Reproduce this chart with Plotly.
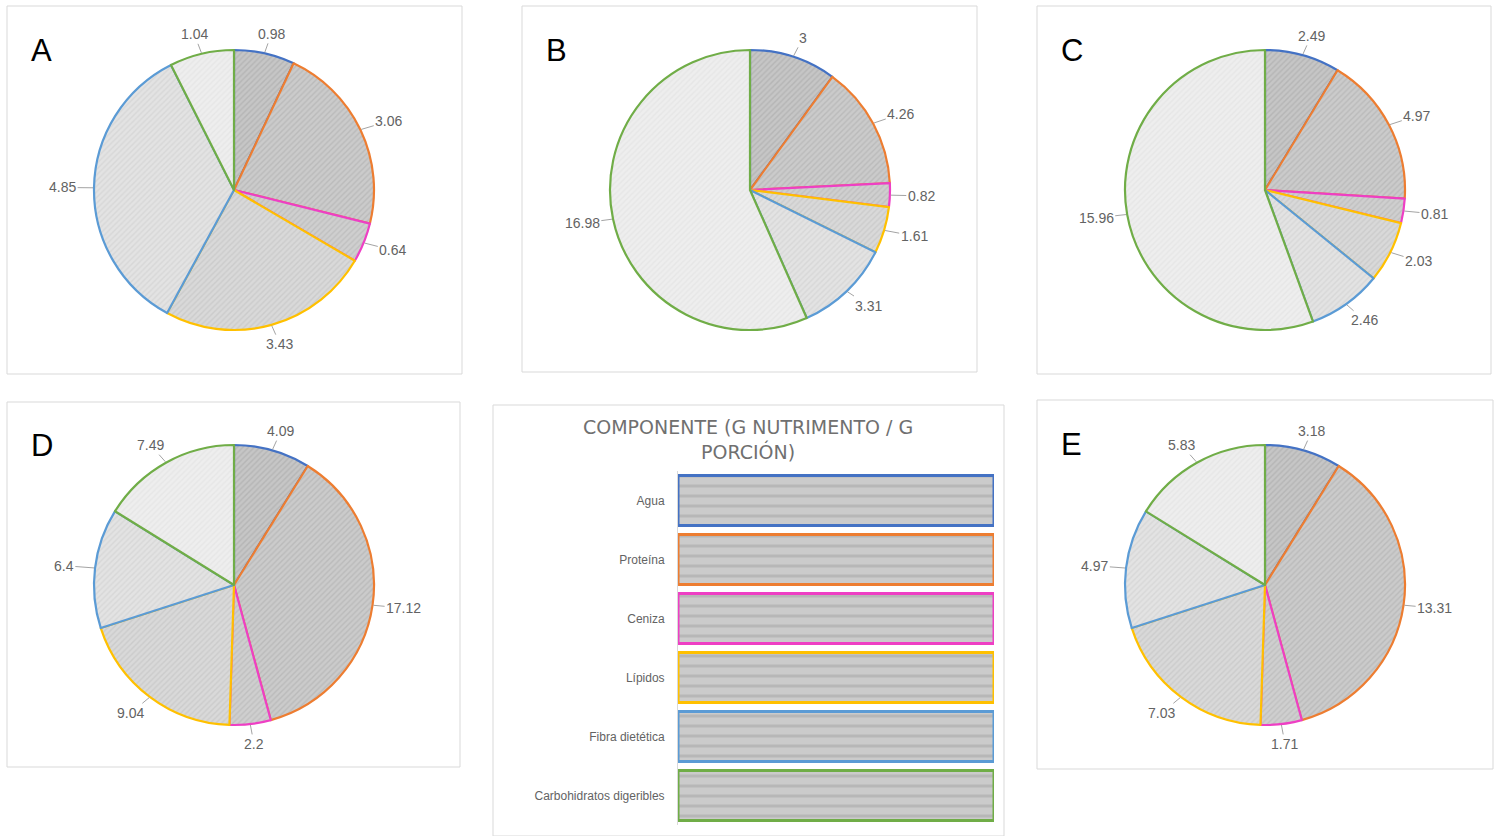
import math
import plotly.graph_objects as go

# Nutrient composition (g nutrient / g portion) for five samples
components = ["Agua", "Proteína", "Ceniza", "Lípidos", "Fibra dietética", "Carbohidratos digeribles"]
sample_a = [0.98, 3.06, 0.64, 3.43, 4.85, 1.04]
sample_b = [3, 4.26, 0.82, 1.61, 3.31, 16.98]
sample_c = [2.49, 4.97, 0.81, 2.03, 2.46, 15.96]
sample_d = [4.09, 17.12, 2.2, 9.04, 6.4, 7.49]
sample_e = [3.18, 13.31, 1.71, 7.03, 4.97, 5.83]
panel_letters = ["A", "B", "C", "D", "E"]
legend_bar_length = [1, 1, 1, 1, 1, 1]

W, H = 1498, 836
edge_colors = ["#4472C4", "#ED7D31", "#EE3FC4", "#FFC000", "#5B9BD5", "#70AD47"]
fill_bg = ["#c6c6c6", "#cbcbcb", "#cfcfcf", "#d9d9d9", "#e3e3e3", "#eeeeee"]
fill_fg = ["#a3a3a3", "#a9a9a9", "#afafaf", "#bdbdbd", "#cccccc", "#dddddd"]
label_color = "#636363"


def px(x):
    return x / W


def py(y):
    return 1 - y / H


# panel frames (left, top, right, bottom) and pie centres in pixels
frames = [(7, 6, 462, 374), (522, 6, 977, 372), (1037, 6, 1491, 374),
          (7, 402, 460, 767), (1037, 400, 1493, 769)]
centres = [(234, 190), (750, 190), (1265, 190), (234, 585), (1265, 585)]
radius = 140
samples = [sample_a, sample_b, sample_c, sample_d, sample_e]

fig = go.Figure()
shapes = []
annotations = []

for frame in frames + [(493, 405, 1004, 836)]:
    l, t, r, b = frame
    shapes.append(dict(type="rect", xref="paper", yref="paper",
                       x0=px(l), x1=px(r), y0=py(b), y1=py(t),
                       line=dict(color="#d9d9d9", width=1), fillcolor="white", layer="below"))

for letter, vals, (cx, cy), frame in zip(panel_letters, samples, centres, frames):
    fig.add_trace(go.Pie(
        labels=components, values=vals, sort=False, direction="clockwise", rotation=0,
        textinfo="none", hoverinfo="label+value", showlegend=False,
        domain=dict(x=[px(cx - radius), px(cx + radius)], y=[py(cy + radius), py(cy - radius)]),
        marker=dict(colors=fill_bg, line=dict(color=edge_colors, width=2.2),
                    pattern=dict(shape="/", fgcolor=fill_fg, bgcolor=fill_bg,
                                 size=4, solidity=0.35, fillmode="overlay")),
    ))
    annotations.append(dict(text=letter, x=px(frame[0] + 22), y=py(frame[1] + 44),
                            xref="paper", yref="paper", xanchor="left", yanchor="middle",
                            showarrow=False, font=dict(family="Liberation Sans", size=31, color="black")))
    # value labels placed just outside each slice with a short leader line
    total = sum(vals)
    cum = 0.0
    for v in vals:
        mid = (cum + v / 2) / total * 2 * math.pi
        cum += v
        sx, sy = math.sin(mid), -math.cos(mid)
        tip_x, tip_y = cx + (radius + 1) * sx, cy + (radius + 1) * sy
        off = 19
        annotations.append(dict(
            text=f"{v:g}", x=px(tip_x), y=py(tip_y), xref="paper", yref="paper",
            showarrow=True, arrowhead=0, arrowwidth=0.8, arrowcolor="#8c8c8c",
            ax=off * sx * 1.6, ay=off * sy, standoff=0,
            font=dict(family="Liberation Sans", size=14, color=label_color)))

# legend panel drawn as a horizontal bar chart
fig.add_trace(go.Bar(
    y=components, x=legend_bar_length, orientation="h", xaxis="x", yaxis="y",
    showlegend=False, hoverinfo="y",
    marker=dict(color="#c4c4c4", line=dict(color=edge_colors, width=3),
                pattern=dict(shape="-", fgcolor="#a3a3a3", bgcolor="#cbcbcb",
                             size=10, solidity=0.3, fillmode="overlay")),
))
annotations.append(dict(text="COMPONENTE (G NUTRIMENTO / G<br>PORCIÓN)", x=px(748), y=py(439),
                        xref="paper", yref="paper", showarrow=False,
                        font=dict(family="DejaVu Sans", size=19, color="#707070")))

fig.update_layout(
    width=W, height=H, margin=dict(l=0, r=0, t=0, b=0),
    paper_bgcolor="white", plot_bgcolor="white",
    shapes=shapes, annotations=annotations,
    bargap=0.15,
    xaxis=dict(domain=[px(678), px(994)], range=[0, 1], visible=False, fixedrange=True),
    yaxis=dict(domain=[py(825), py(471)], autorange="reversed", showgrid=False,
               showline=True, linecolor="#d9d9d9", ticks="outside", ticklen=10,
               tickcolor="rgba(0,0,0,0)",
               tickfont=dict(family="Liberation Sans", size=12, color=label_color),
               fixedrange=True),
)

fig.write_html("out.html")
